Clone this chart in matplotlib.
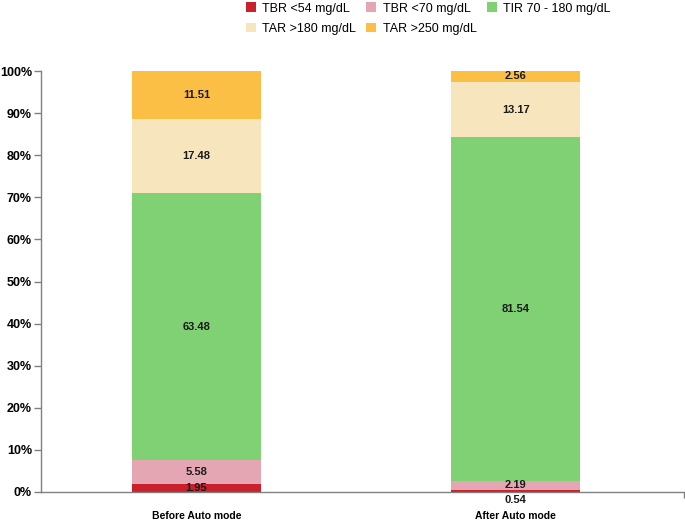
import matplotlib
matplotlib.use("Agg")
import matplotlib.pyplot as plt
import numpy as np

plt.rcParams['font.family'] = ['Liberation Sans', 'DejaVu Sans']

categories = ["Before Auto mode", "After Auto mode"]
series_names = ["TBR <54 mg/dL", "TBR <70 mg/dL", "TIR 70 - 180 mg/dL",
                "TAR >180 mg/dL", "TAR >250 mg/dL"]
tbr54 = [1.95, 0.54]
tbr70 = [5.58, 2.19]
tir = [63.48, 81.54]
tar180 = [17.48, 13.17]
tar250 = [11.51, 2.56]
yticks = [0, 10, 20, 30, 40, 50, 60, 70, 80, 90, 100]

colors = ["#c9202c", "#e5a6b3", "#80d074", "#f7e6bd", "#fbbf45"]
series = [tbr54, tbr70, tir, tar180, tar250]

fig = plt.figure(figsize=(6.85, 5.21), dpi=100)
ax = fig.add_axes([41/685, 1-492/521, (684-41)/685, (492-71)/521])

x = np.arange(len(categories))
width = 0.404
bottom = np.zeros(len(categories))
handles = []
for name, vals, c in zip(series_names, series, colors):
    vals = np.array(vals)
    h = ax.bar(x, vals, width, bottom=bottom, color=c, label=name, linewidth=0)
    handles.append(h)
    for xi, v, b in zip(x, vals, bottom):
        yc = b + v / 2
        if v < 1:
            yc = -1.9
        ax.text(xi, yc, f"{v:.2f}", ha='center', va='center', fontsize=8,
                fontweight='bold', color='#1a1a1a', clip_on=False)
    bottom += vals

ax.set_xlim(-0.486, 1.526)
ax.set_ylim(0, 100)
ax.set_yticks(yticks)
ax.set_yticklabels([f"{t}%" for t in yticks], fontsize=9, fontweight='bold')
ax.set_xticks(x)
ax.set_xticklabels(categories, fontsize=7.5, fontweight='bold')
ax.tick_params(axis='x', length=0, pad=14)
ax.set_xticks([1.526], minor=True)
ax.tick_params(axis='x', which='minor', length=4, color='#808080', width=1)
ax.tick_params(axis='y', length=5, color='#808080', width=1, pad=1.5)
for s in ['top', 'right']:
    ax.spines[s].set_visible(False)
for s in ['left', 'bottom']:
    ax.spines[s].set_color('#808080')
    ax.spines[s].set_linewidth(1)

order = [0, 3, 1, 4, 2]
fig.legend(handles=[handles[i] for i in order],
           labels=[series_names[i] for i in order], ncol=3, loc='upper left',
           bbox_to_anchor=(235/685, 1.017), frameon=False, fontsize=9,
           handlelength=0.8, handleheight=0.8, handletextpad=0.5,
           columnspacing=0.8, labelspacing=0.65)

fig.savefig("out.png", dpi=100)
